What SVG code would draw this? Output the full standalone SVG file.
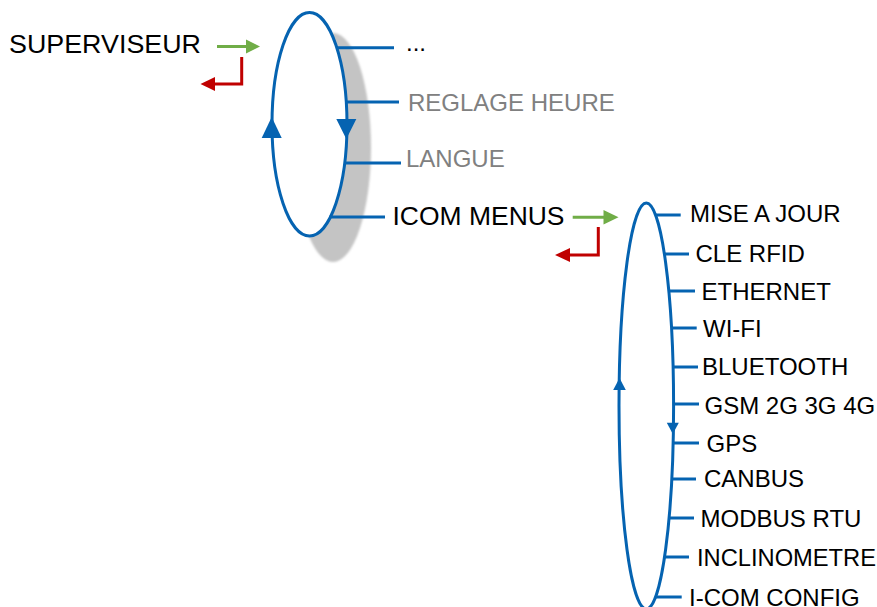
<svg xmlns="http://www.w3.org/2000/svg" width="877" height="607" viewBox="0 0 877 607">
<style>
  text { font-family: "Liberation Sans", Arial, sans-serif; font-size: 24px; fill: #000; }
  .gray { fill: #808080; }
  .big { font-size: 26px; }
  .ring { fill: #fff; stroke: #0563b1; stroke-width: 3; }
  .tick { stroke: #0563b1; stroke-width: 3; fill: none; }
  .head { fill: #0563b1; }
  .go { stroke: #70ad47; stroke-width: 3; fill: none; }
  .goh { fill: #70ad47; }
  .back { stroke: #c00000; stroke-width: 3; fill: none; }
  .backh { fill: #c00000; }
</style>
<defs>
  <filter id="soft" x="-20%" y="-20%" width="140%" height="140%">
    <feGaussianBlur stdDeviation="1"/>
  </filter>
</defs>

<g id="menu-superviseur">
  <ellipse cx="333" cy="147.5" rx="38" ry="114.5" fill="#c4c4c4" filter="url(#soft)"/>
  <ellipse class="ring" cx="309.5" cy="124.3" rx="37.5" ry="111.7"/>
  <polygon class="head" points="271.7,117 261.7,138 281.7,138"/>
  <polygon class="head" points="346.3,139 336.3,119 356.3,119"/>
</g>

<g id="menu-icom">
  <ellipse class="ring" cx="646.3" cy="406" rx="27.3" ry="203"/>
  <polygon class="head" points="619.5,378 613.2,390 625.8,390"/>
  <polygon class="head" points="672.8,434 666.8,422.7 678.8,422.7"/>
</g>

<g id="connectors">
  <line class="tick" x1="336" y1="47.7" x2="394" y2="47.7"/>
  <line class="tick" x1="345" y1="102" x2="399" y2="102"/>
  <line class="tick" x1="344" y1="163" x2="401" y2="163"/>
  <line class="tick" x1="329.5" y1="217" x2="385" y2="217"/>

  <line class="tick" x1="655" y1="215" x2="680.7" y2="215"/>
  <line class="tick" x1="664" y1="254" x2="689" y2="254"/>
  <line class="tick" x1="668.5" y1="291" x2="695" y2="291"/>
  <line class="tick" x1="671" y1="328" x2="696.7" y2="328"/>
  <line class="tick" x1="672.5" y1="367" x2="698" y2="367"/>
  <line class="tick" x1="672.8" y1="404" x2="699" y2="404"/>
  <line class="tick" x1="672.5" y1="443" x2="699" y2="443"/>
  <line class="tick" x1="671" y1="479" x2="696" y2="479"/>
  <line class="tick" x1="668.5" y1="518" x2="694" y2="518"/>
  <line class="tick" x1="664" y1="557" x2="689" y2="557"/>
  <line class="tick" x1="655" y1="597" x2="681.7" y2="597"/>

  <line class="go" x1="217" y1="46.5" x2="248" y2="46.5"/>
  <polygon class="goh" points="260,46.5 246,39.5 246,53.5"/>
  <path class="back" d="M241.7,57 V84 H213"/>
  <polygon class="backh" points="200.5,84 215,77 215,91"/>

  <line class="go" x1="572.7" y1="217.3" x2="605" y2="217.3"/>
  <polygon class="goh" points="618.5,217.3 603.5,210 603.5,224.5"/>
  <path class="back" d="M598.3,227 V255 H568"/>
  <polygon class="backh" points="555,255 570,248 570,262"/>
</g>

<g id="labels-superviseur">
  <text id="t-superviseur" class="big" x="9" y="53.3" textLength="192" lengthAdjust="spacingAndGlyphs">SUPERVISEUR</text>
  <text x="406" y="51">...</text>
  <text class="gray" x="408" y="111">REGLAGE HEURE</text>
  <text class="gray" x="406" y="167">LANGUE</text>
  <text class="big" x="392.5" y="225" textLength="172" lengthAdjust="spacingAndGlyphs">ICOM MENUS</text>
</g>

<g id="labels-icom">
  <text x="690" y="222.3">MISE A JOUR</text>
  <text x="695.5" y="262.3">CLE RFID</text>
  <text x="701.5" y="300">ETHERNET</text>
  <text x="703" y="336.7">WI-FI</text>
  <text x="702" y="375">BLUETOOTH</text>
  <text x="704.5" y="414">GSM 2G 3G 4G</text>
  <text x="706.5" y="451.7">GPS</text>
  <text x="704" y="486.7">CANBUS</text>
  <text x="700.5" y="526.7">MODBUS RTU</text>
  <text x="697" y="566" textLength="179" lengthAdjust="spacingAndGlyphs">INCLINOMETRE</text>
  <text x="689" y="605.5">I-COM CONFIG</text>
</g>
</svg>
